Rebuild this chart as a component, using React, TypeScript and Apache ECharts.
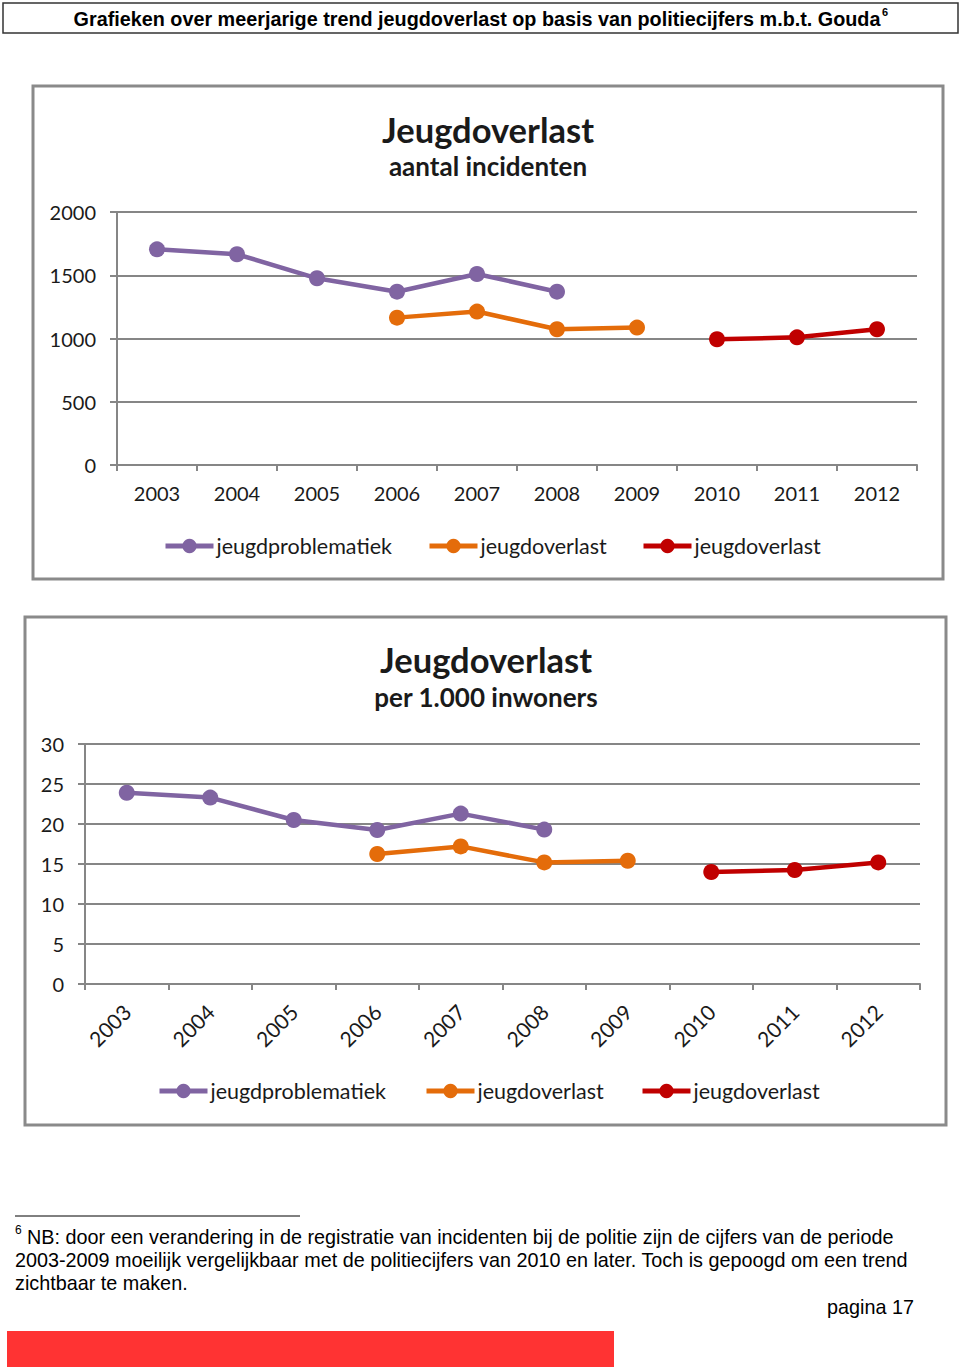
import React, { useEffect, useRef } from "react";
import * as echarts from "echarts";

const years = ["2003", "2004", "2005", "2006", "2007", "2008", "2009", "2010", "2011", "2012"];

const seriesNames = ["jeugdproblematiek", "jeugdoverlast 2003-2009", "jeugdoverlast 2010-2012"];
const legendLabels = ["jeugdproblematiek", "jeugdoverlast", "jeugdoverlast"];

// Chart 1: aantal incidenten
const countProblematiek = [1705, 1666, 1476, 1370, 1510, 1370, null, null, null, null];
const countOverlastOld = [null, null, null, 1165, 1213, 1073, 1086, null, null, null];
const countOverlastNew = [null, null, null, null, null, null, null, 994, 1009, 1073];

// Chart 2: per 1.000 inwoners
const rateProblematiek = [23.9, 23.3, 20.5, 19.25, 21.3, 19.3, null, null, null, null];
const rateOverlastOld = [null, null, null, 16.25, 17.2, 15.2, 15.4, null, null, null];
const rateOverlastNew = [null, null, null, null, null, null, null, 14.0, 14.25, 15.2];

const yTicks1 = { min: 0, max: 2000, interval: 500 };
const yTicks2 = { min: 0, max: 30, interval: 5 };

const colors = ["#8064A2", "#E46C0A", "#C00000"];

const FONT = "Lato, 'Open Sans', sans-serif";
const ARIAL = "'Liberation Sans', Arial, sans-serif";

export default function App() {
  const ref = useRef<HTMLDivElement>(null);
  useEffect(() => {
    if (!ref.current) return;
    const chart = echarts.init(ref.current, undefined, { renderer: "svg" });
    const axisGray = "#868686";
    const mkLine = (name: string, data: (number | null)[], idx: number, axis: number) => ({
      type: "line",
      name,
      data,
      xAxisIndex: axis,
      yAxisIndex: axis,
      connectNulls: false,
      symbol: "circle",
      symbolSize: 16,
      lineStyle: { width: 4.5, color: colors[idx] },
      itemStyle: { color: colors[idx] },
      z: 3,
    });
    const mkLegend = (i: number, left: number, top: number) => ({
      orient: "horizontal",
      left,
      top,
      padding: 0,
      itemWidth: 48,
      itemHeight: 18,
      itemGap: 0,
      itemStyle: { borderWidth: 0 },
      lineStyle: { width: 5 },
      textStyle: { fontSize: 21.5, fontFamily: FONT, color: "#1a1a1a", padding: [0, 0, 0, -2] },
      formatter: (n: string) => legendLabels[seriesNames.indexOf(n)] ?? n,
      data: [seriesNames[i]],
      selectedMode: false,
    });
    const yAxisBase = {
      type: "value",
      axisLine: { show: true, lineStyle: { color: axisGray, width: 2 } },
      axisTick: { show: true, length: 7, lineStyle: { color: axisGray, width: 2 } },
      splitLine: { show: true, lineStyle: { color: axisGray, width: 2 } },
      axisLabel: { fontSize: 20, fontFamily: FONT, color: "#1a1a1a", margin: 21, formatter: (v: number) => String(v) },
    };
    const xAxisBase = {
      type: "category",
      data: years,
      boundaryGap: true,
      axisLine: { show: true, lineStyle: { color: axisGray, width: 2 } },
      axisTick: { show: true, length: 6, lineStyle: { color: axisGray, width: 2 } },
      splitLine: { show: false },
    };
    const option: any = {
      animation: false,
      backgroundColor: "#ffffff",
      grid: [
        { left: 117, top: 212, width: 800, height: 253 },
        { left: 85, top: 744, width: 835, height: 240 },
      ],
      xAxis: [
        { ...xAxisBase, gridIndex: 0, axisLabel: { fontSize: 20, fontFamily: FONT, color: "#1a1a1a", margin: 18 } },
        { ...xAxisBase, gridIndex: 1, axisLabel: { fontSize: 21, fontFamily: FONT, color: "#1a1a1a", margin: 24, rotate: 45 } },
      ],
      yAxis: [
        { ...yAxisBase, gridIndex: 0, ...yTicks1 },
        { ...yAxisBase, gridIndex: 1, ...yTicks2 },
      ],
      legend: [
        mkLegend(0, 163, 535),
        mkLegend(1, 427, 535),
        mkLegend(2, 641, 535),
        mkLegend(0, 157, 1080),
        mkLegend(1, 424, 1080),
        mkLegend(2, 640, 1080),
      ],
      series: [
        mkLine(seriesNames[0], countProblematiek, 0, 0),
        mkLine(seriesNames[1], countOverlastOld, 1, 0),
        mkLine(seriesNames[2], countOverlastNew, 2, 0),
        mkLine(seriesNames[0], rateProblematiek, 0, 1),
        mkLine(seriesNames[1], rateOverlastOld, 1, 1),
        mkLine(seriesNames[2], rateOverlastNew, 2, 1),
      ],
      graphic: [
        // header box
        { type: "rect", shape: { x: 3, y: 3, width: 955, height: 30 }, style: { fill: "#fff", stroke: "#333", lineWidth: 1.5 }, z: -1 },
        { type: "text", x: 477, y: 19, style: { text: "Grafieken over meerjarige trend jeugdoverlast op basis van politiecijfers m.b.t. Gouda", font: `bold 19.8px ${ARIAL}`, fill: "#000", align: "center", verticalAlign: "middle" } },
        { type: "text", x: 882, y: 12, style: { text: "6", font: `bold 11px ${ARIAL}`, fill: "#000", align: "left", verticalAlign: "middle" } },
        // chart frames
        { type: "rect", shape: { x: 33, y: 86, width: 910, height: 493 }, style: { fill: "none", stroke: "#8a8a8a", lineWidth: 3 }, z: -1 },
        { type: "rect", shape: { x: 25, y: 617, width: 921, height: 508 }, style: { fill: "none", stroke: "#8a8a8a", lineWidth: 3 }, z: -1 },
        // titles
        { type: "text", x: 488, y: 129, style: { text: "Jeugdoverlast", font: `bold 34.5px ${FONT}`, fill: "#1a1a1a", align: "center", verticalAlign: "middle" } },
        { type: "text", x: 488, y: 166, style: { text: "aantal incidenten", font: `bold 26px ${FONT}`, fill: "#1a1a1a", align: "center", verticalAlign: "middle" } },
        { type: "text", x: 486, y: 659, style: { text: "Jeugdoverlast", font: `bold 34.5px ${FONT}`, fill: "#1a1a1a", align: "center", verticalAlign: "middle" } },
        { type: "text", x: 486, y: 697, style: { text: "per 1.000 inwoners", font: `bold 26px ${FONT}`, fill: "#1a1a1a", align: "center", verticalAlign: "middle" } },
        // footnote
        { type: "line", shape: { x1: 15, y1: 1216, x2: 300, y2: 1216 }, style: { stroke: "#000", lineWidth: 1 } },
        { type: "text", x: 15, y: 1230, style: { text: "6", font: `12px ${ARIAL}`, fill: "#000", verticalAlign: "middle" } },
        { type: "text", x: 27, y: 1237, style: { text: "NB: door een verandering in de registratie van incidenten bij de politie zijn de cijfers van de periode", font: `19.8px ${ARIAL}`, fill: "#000", verticalAlign: "middle" } },
        { type: "text", x: 15, y: 1260, style: { text: "2003-2009 moeilijk vergelijkbaar met de politiecijfers van 2010 en later. Toch is gepoogd om een trend", font: `19.8px ${ARIAL}`, fill: "#000", verticalAlign: "middle" } },
        { type: "text", x: 15, y: 1283, style: { text: "zichtbaar te maken.", font: `19.8px ${ARIAL}`, fill: "#000", verticalAlign: "middle" } },
        { type: "text", x: 914, y: 1307, style: { text: "pagina 17", font: `19.8px ${ARIAL}`, fill: "#000", align: "right", verticalAlign: "middle" } },
        { type: "rect", shape: { x: 7, y: 1331, width: 607, height: 36 }, style: { fill: "#FF3333" } },
      ],
    };
    chart.setOption(option);
    return () => chart.dispose();
  }, []);
  return <div ref={ref} style={{ position: "absolute", left: 0, top: 0, width: 960, height: 1372 }} />;
}
